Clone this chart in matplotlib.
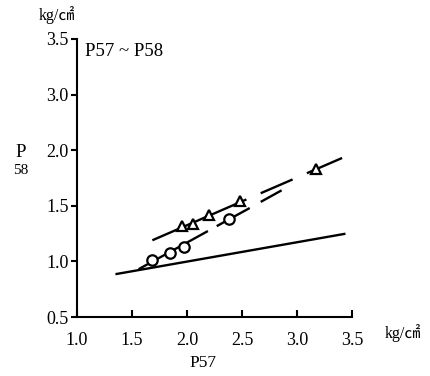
import matplotlib.pyplot as plt

plt.rcParams['font.family'] = ['Liberation Serif', 'Noto Sans CJK JP', 'DejaVu Sans']

# measured points
circ_x = [1.68, 1.845, 1.975, 2.385]
circ_y = [1.01, 1.08, 1.13, 1.38]
tri_x = [1.957, 2.05, 2.20, 2.48, 3.17]
tri_y = [1.32, 1.34, 1.42, 1.54, 1.83]

# fitted lines, drawn as pieces (solid part then dashes)
circ_seg_x = [[1.56, 2.19], [2.27, 2.57], [2.67, 2.86]]
circ_seg_y = [[0.93, 1.273], [1.317, 1.480], [1.535, 1.639]]
tri_seg_x = [[1.685, 2.54], [2.67, 2.96], [3.09, 3.41]]
tri_seg_y = [[1.19, 1.557], [1.613, 1.737], [1.793, 1.930]]
base_x = [1.36, 3.43]
base_y = [0.887, 1.247]

yticks = [0.5, 1.0, 1.5, 2.0, 2.5, 3.0]
ytick_labels = ['0.5', '1.0', '1.5', '2.0', '3.0', '3.5']
xticks = [1.0, 1.5, 2.0, 2.5, 3.0, 3.5]
xtick_labels = ['1.0', '1.5', '2.0', '2.5', '3.0', '3.5']

fig = plt.figure(figsize=(4.31, 3.76), dpi=100)
ax = fig.add_axes([0.1787, 0.1569, 0.638, 0.7394])

lw = 1.7
ax.plot(base_x, base_y, color='black', lw=lw)
for sx, sy in zip(circ_seg_x, circ_seg_y):
    ax.plot(sx, sy, color='black', lw=lw, solid_capstyle='butt')
for sx, sy in zip(tri_seg_x, tri_seg_y):
    ax.plot(sx, sy, color='black', lw=lw, solid_capstyle='butt')

ax.plot(circ_x, circ_y, 'o', ms=7.5, mfc='white', mec='black', mew=1.6, ls='none')
ax.plot(tri_x, tri_y, '^', ms=7.5, mfc='white', mec='black', mew=1.6, ls='none')

ax.set_xlim(1.0, 3.5)
ax.set_ylim(0.5, 3.0)
ax.set_xticks(xticks)
ax.set_xticklabels(xtick_labels)
ax.set_yticks(yticks)
ax.set_yticklabels(ytick_labels)

for s in ['top', 'right']:
    ax.spines[s].set_visible(False)
for s in ['left', 'bottom']:
    ax.spines[s].set_linewidth(1.5)

ax.tick_params(axis='x', direction='in', length=5, width=1.5, labelsize=13, pad=11)
ax.tick_params(axis='y', direction='out', length=4, width=1.5, labelsize=13, pad=2)

ax.text(0.03, 0.985, 'P57 ~ P58', transform=ax.transAxes, fontsize=13.5, va='top', ha='left')

fig.text(0.133, 0.96, 'kg/㎠', fontsize=11.5, ha='center', va='center')
fig.text(0.935, 0.113, 'kg/㎠', fontsize=11.5, ha='center', va='center')
fig.text(0.47, 0.035, 'P57', fontsize=12.5, ha='center', va='center')
fig.text(0.047, 0.595, 'P', fontsize=13.5, ha='center', va='center')
fig.text(0.047, 0.547, '58', fontsize=11, ha='center', va='center')

fig.savefig('out.png', dpi=100)
